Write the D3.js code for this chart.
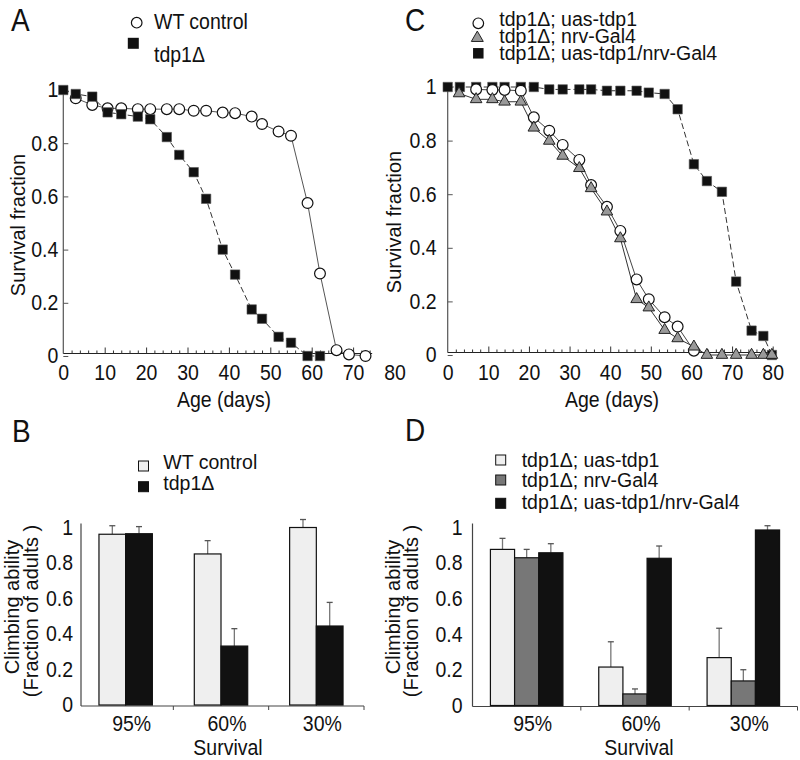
<!DOCTYPE html>
<html><head><meta charset="utf-8">
<script src="https://cdn.jsdelivr.net/npm/d3@7"></script>
<style>
body{margin:0;background:#fff}
svg text{font-family:"Liberation Sans",Arial,Helvetica,sans-serif;fill:#111}
</style>
</head><body><svg id="c" width="800" height="760"></svg>
<script>
// ---------------- DATA ----------------
// Panel A: survival curves
const daysWtA   = [3,7,10.7,14,18,21,25,28,31.5,34.5,38.5,41.5,45.5,48,52,55,59,62,66,69,73];
const wtA       = [0.969,0.944,0.931,0.931,0.928,0.928,0.928,0.928,0.922,0.922,0.915,0.913,0.90,0.872,0.844,0.828,0.575,0.31,0.022,0.006,0];
const daysTdpA  = [0,3,7,10.7,14,18,21,25,28,31.5,34.5,38.5,41.5,45.5,48,52,55,59,62];
const tdp1A     = [1,0.985,0.975,0.916,0.909,0.90,0.89,0.823,0.756,0.691,0.591,0.40,0.306,0.175,0.14,0.072,0.05,0,0];
const seriesA   = ["WT control","tdp1\u0394"];

// Panel C: survival curves
const daysUasC  = [7,11,14,18,21.2,25,28.3,32.4,35.3,39.2,42.5,46.5,49.5,53.4,56.6,60.6];
const uasC      = [0.991,0.989,0.989,0.986,0.887,0.837,0.784,0.728,0.634,0.553,0.463,0.282,0.208,0.141,0.106,0.016];
const daysNrvC  = [2.8,7,11,14,18,21.2,25,28.3,32.4,35.3,39.2,42.5,46.5,49.5,53.4,56.6,60.6,63.8,67.5,71,74.8,77.7,79.8];
const nrvC      = [0.976,0.954,0.954,0.945,0.945,0.848,0.799,0.743,0.697,0.622,0.535,0.435,0.208,0.177,0.093,0.062,0.031,0,0,0,0,0,0];
const daysResC  = [0,3,7,11,14,18,21.2,25,28.3,32.4,35.3,39.2,42.5,46.5,49.5,53.4,56.6,60.6,63.8,67.5,71,74.8,77.7,79.8];
const rescueC   = [1,1,1,1,1,1,1,0.991,0.991,0.991,0.991,0.986,0.986,0.986,0.979,0.974,0.917,0.712,0.649,0.609,0.274,0.091,0.071,0];
const seriesC   = ["tdp1\u0394; uas-tdp1","tdp1\u0394; nrv-Gal4","tdp1\u0394; uas-tdp1/nrv-Gal4"];

const xTicksSurv = [0,10,20,30,40,50,60,70,80];
const yTicks     = [0,0.2,0.4,0.6,0.8,1];

// Panel B: climbing bars
const categories = ["95%","60%","30%"];
const wtB      = [0.962,0.851,1.0];
const wtBErr   = [0.048,0.075,0.045];
const tdp1B    = [0.965,0.332,0.445];
const tdp1BErr = [0.040,0.098,0.133];

// Panel D: climbing bars
const uasD      = [0.877,0.216,0.269];
const uasDErr   = [0.062,0.142,0.165];
const nrvD      = [0.830,0.065,0.138];
const nrvDErr   = [0.047,0.028,0.063];
const rescueD   = [0.858,0.827,0.986];
const rescueDErr= [0.051,0.069,0.024];

// ---------------- DRAW ----------------
const svg = d3.select("#c");
const FS = 19.5;   // font size
const SY = 1.1;    // slight vertical stretch of the original figure's lettering

function stretchLeft(sel){
  sel.attr("font-family",null).attr("font-size",null);
  sel.selectAll("text").attr("font-size",FS).attr("fill","#111")
    .attr("transform",`scale(1,${SY})`);
}
function stretchBottom(baseline){
  return sel=>{
    sel.attr("font-family",null).attr("font-size",null);
    sel.selectAll("text").attr("font-size",FS).attr("fill","#111")
      .attr("dy",null).attr("y",baseline/SY).attr("transform",`scale(1,${SY})`);
  };
}

function txt(x,y,s,opt={}){
  const t = svg.append("text").text(s).attr("font-size",opt.size||FS);
  if(opt.anchor) t.attr("text-anchor",opt.anchor);
  const sy = opt.sy!==undefined ? opt.sy : SY;
  if(opt.rot) t.attr("transform",`translate(${x},${y}) rotate(-90)`);
  else t.attr("transform",`translate(${x},${y}) scale(1,${sy})`);
  return t;
}

function zip(days,vals){ return days.map((d,i)=>({day:d,v:vals[i]})); }

function survivalPanel(o){
  const g = svg.append("g");
  const x = d3.scaleLinear().domain([0,80]).range(o.xr);
  const y = d3.scaleLinear().domain([0,1]).range(o.yr);
  const ay = y(0) - 2.5;
  // y axis
  g.append("line").attr("x1",x(0)).attr("x2",x(0)).attr("y1",y(1)).attr("y2",ay)
    .attr("stroke","#555").attr("stroke-width",1.2);
  g.append("g").attr("transform",`translate(${x(0)},0)`)
    .call(d3.axisRight(y).tickValues(yTicks).tickSize(5).tickFormat(""))
    .call(s=>s.select(".domain").remove())
    .call(s=>s.selectAll("line").attr("stroke","#555"));
  g.append("g").attr("transform",`translate(${x(0)},0)`)
    .call(d3.axisLeft(y).tickValues(yTicks).tickSize(0).tickPadding(o.yPad)
      .tickFormat(d=> d===0?"0":d===1?"1":d3.format(".1f")(d)))
    .call(s=>s.select(".domain").remove())
    .call(stretchLeft);
  // x axis
  g.append("line").attr("x1",x(0)).attr("x2",x(o.xEnd)).attr("y1",ay).attr("y2",ay)
    .attr("stroke","#222").attr("stroke-width",1.2);
  const minor = d3.range(2,o.xEnd+0.01,2).filter(d=>d%10!==0);
  const major = xTicksSurv.filter(d=>d>0 && d<=o.xEnd);
  g.append("g").attr("transform",`translate(0,${ay})`)
    .call(d3.axisTop(x).tickValues(minor).tickSize(3).tickFormat(""))
    .call(s=>s.select(".domain").remove())
    .call(s=>s.selectAll("line").attr("stroke","#333"));
  g.append("g").attr("transform",`translate(0,${ay})`)
    .call(d3.axisTop(x).tickValues(major).tickSize(6).tickFormat(""))
    .call(s=>s.select(".domain").remove())
    .call(s=>s.selectAll("line").attr("stroke","#333"));
  g.append("g").attr("transform",`translate(0,${ay})`)
    .call(d3.axisBottom(x).tickValues(xTicksSurv).tickSize(0))
    .call(s=>s.select(".domain").remove())
    .call(stretchBottom(380.5-ay));
  // series
  const line = d3.line().x(d=>x(d.day)).y(d=>y(d.v));
  o.series.forEach(s=>{
    g.append("path").datum(s.data).attr("d",line).attr("fill","none")
      .attr("stroke",s.lineColor).attr("stroke-width",1)
      .attr("stroke-dasharray",s.dash||null);
  });
  o.series.slice().sort((a,b)=>a.z-b.z).forEach(s=>{
    const pts = g.append("g").selectAll("path").data(s.data).join("path")
      .attr("transform",d=>`translate(${x(d.day)},${y(d.v)})`);
    if(s.marker==="circle"){
      pts.attr("d",d3.symbol(d3.symbolCircle,Math.PI*5.4*5.4)()).attr("fill","#fff").attr("stroke","#111").attr("stroke-width",1.2);
    } else if(s.marker==="square"){
      pts.attr("d",d3.symbol(d3.symbolSquare,9.4*9.4)()).attr("fill","#111").attr("stroke","#555").attr("stroke-width",0.6);
    } else {
      pts.attr("d",d3.symbol(d3.symbolTriangle,58)()).attr("fill","#999").attr("stroke","#222").attr("stroke-width",1);
    }
  });
  return {x,y};
}

function barPanel(o){
  const g = svg.append("g");
  const y = d3.scaleLinear().domain([0,1]).range(o.yr);
  const x0 = d3.scaleBand().domain(categories).range(o.xr).padding(0);
  const x1 = d3.scaleBand().domain(o.series.map(s=>s.name)).range([0,o.groupW]).padding(0);
  const off = (x0.bandwidth()-o.groupW)/2;
  // y axis
  g.append("line").attr("x1",o.axisX).attr("x2",o.axisX).attr("y1",y(1)-4).attr("y2",y(0)+1)
    .attr("stroke","#444").attr("stroke-width",1.2);
  g.append("g").attr("transform",`translate(${o.axisX},0)`)
    .call(d3.axisLeft(y).tickValues(yTicks).tickSize(0).tickPadding(o.yPad)
      .tickFormat(d=> d===0?"0":d===1?"1":d3.format(".1f")(d)))
    .call(s=>s.select(".domain").remove())
    .call(stretchLeft);
  // x axis
  g.append("line").attr("x1",o.axisX).attr("x2",o.xr[1]).attr("y1",y(0)+1).attr("y2",y(0)+1)
    .attr("stroke","#444").attr("stroke-width",1.2);
  const bounds = categories.slice(1).map(c=>x0(c)).concat([o.xr[1]]);
  g.selectAll(".bt").data(bounds).join("line")
    .attr("x1",d=>d).attr("x2",d=>d).attr("y1",y(0)+1).attr("y2",y(0)+5).attr("stroke","#444");
  g.append("g").attr("transform",`translate(${off+o.groupW/2 - x0.bandwidth()/2 + 6},${y(0)})`)
    .call(d3.axisBottom(x0).tickSize(0))
    .call(s=>s.select(".domain").remove())
    .call(stretchBottom(731.5-y(0)));
  // bars
  o.series.forEach(s=>{
    const data = categories.map((c,i)=>({c,v:s.values[i],e:s.err[i]}));
    const bx = d=> x0(d.c)+off+x1(s.name);
    g.append("g").selectAll("line").data(data).join("line")
      .attr("x1",d=>bx(d)+x1.bandwidth()/2).attr("x2",d=>bx(d)+x1.bandwidth()/2)
      .attr("y1",d=>y(d.v)).attr("y2",d=>y(d.v+d.e))
      .attr("stroke","#777").attr("stroke-width",1.3);
    g.append("g").selectAll("line").data(data).join("line")
      .attr("x1",d=>bx(d)+x1.bandwidth()/2-3).attr("x2",d=>bx(d)+x1.bandwidth()/2+3)
      .attr("y1",d=>y(d.v+d.e)).attr("y2",d=>y(d.v+d.e))
      .attr("stroke","#555").attr("stroke-width",1.3);
    g.append("g").selectAll("rect").data(data).join("rect")
      .attr("x",bx).attr("width",x1.bandwidth())
      .attr("y",d=>y(d.v)).attr("height",d=>y(0)-y(d.v))
      .attr("fill",s.color).attr("stroke","#111").attr("stroke-width",1.2);
  });
}

// ----- Panel A -----
survivalPanel({
  xr:[63.3,394.5], yr:[356,90], xEnd:74.6, yPad:5,
  series:[
    {data:zip(daysWtA,wtA), marker:"circle", lineColor:"#555", z:1},
    {data:zip(daysTdpA,tdp1A), marker:"square", lineColor:"#333", dash:"6,3", z:2}
  ]
});
// ----- Panel C -----
survivalPanel({
  xr:[447.7,772.7], yr:[355,87], xEnd:80.9, yPad:11,
  series:[
    {data:zip(daysResC,rescueC), marker:"square", lineColor:"#333", dash:"6,3", z:1},
    {data:zip(daysUasC,uasC), marker:"circle", lineColor:"#444", z:2},
    {data:zip(daysNrvC,nrvC), marker:"triangle", lineColor:"#333", z:3}
  ]
});
// ----- Panel B -----
barPanel({
  xr:[78,364], yr:[705,527.5], axisX:81, groupW:53.4, yPad:8,
  series:[
    {name:seriesA[0], values:wtB, err:wtBErr, color:"#efefef"},
    {name:seriesA[1], values:tdp1B, err:tdp1BErr, color:"#111"}
  ]
});
// ----- Panel D -----
barPanel({
  xr:[472.5,797.5], yr:[705.5,527.5], axisX:472.5, groupW:72.5, yPad:10,
  series:[
    {name:seriesC[0], values:uasD, err:uasDErr, color:"#efefef"},
    {name:seriesC[1], values:nrvD, err:nrvDErr, color:"#777"},
    {name:seriesC[2], values:rescueD, err:rescueDErr, color:"#111"}
  ]
});

// ----- Panel letters -----
txt(11,31,"A",{size:28});
txt(405,31,"C",{size:28});
txt(12,442,"B",{size:28});
txt(405,441,"D",{size:28});

// ----- Axis titles -----
txt(25,225,"Survival fraction",{anchor:"middle",rot:true,size:20});
txt(401,222,"Survival fraction",{anchor:"middle",rot:true,size:20});
txt(224,406.5,"Age (days)",{anchor:"middle"});
txt(612,406.5,"Age (days)",{anchor:"middle"});
txt(19,607,"Climbing ability",{anchor:"middle",rot:true,size:20});
txt(38,611,"(Fraction of adults )",{anchor:"middle",rot:true,size:20});
txt(400,607,"Climbing ability",{anchor:"middle",rot:true,size:20});
txt(418,611,"(Fraction of adults )",{anchor:"middle",rot:true,size:20});
txt(228,755,"Survival",{anchor:"middle"});
txt(639,755,"Survival",{anchor:"middle"});

// ----- Legends -----
const legA = svg.append("g");
legA.append("path").attr("transform","translate(136.7,22.7)").attr("d",d3.symbol(d3.symbolCircle,Math.PI*5.3*5.3)())
  .attr("fill","#fff").attr("stroke","#111").attr("stroke-width",1.2);
legA.append("path").attr("transform","translate(133.3,43.3)").attr("d",d3.symbol(d3.symbolSquare,11*11)()).attr("fill","#111");
txt(154,28.5,seriesA[0]); txt(154,61.5,seriesA[1]);

const legC = svg.append("g");
legC.append("path").attr("transform","translate(478.3,23.3)").attr("d",d3.symbol(d3.symbolCircle,Math.PI*5.3*5.3)())
  .attr("fill","#fff").attr("stroke","#111").attr("stroke-width",1.2);
legC.append("path").attr("transform","translate(477.3,38)").attr("d",d3.symbol(d3.symbolTriangle,62)())
  .attr("fill","#999").attr("stroke","#222").attr("stroke-width",1);
legC.append("path").attr("transform","translate(478.3,53.3)").attr("d",d3.symbol(d3.symbolSquare,10.5*10.5)()).attr("fill","#111");
txt(499.3,26.3,seriesC[0],{sy:1}); txt(499.3,42.8,seriesC[1],{sy:1}); txt(499.3,59.8,seriesC[2],{sy:1});

const legB = svg.append("g");
[["#efefef",466],["#111",486.7]].forEach(([c,yy])=>{
  legB.append("rect").attr("x",143.5-5).attr("y",yy-5).attr("width",10).attr("height",10).attr("fill",c).attr("stroke","#111").attr("stroke-width",1);
});
txt(163.3,469.3,seriesA[0],{sy:1}); txt(163.3,490,seriesA[1],{sy:1});

const legD = svg.append("g");
[["#efefef",460],["#777",480],["#111",503.3]].forEach(([c,yy])=>{
  legD.append("rect").attr("x",500.7-5).attr("y",yy-5).attr("width",10).attr("height",10).attr("fill",c).attr("stroke","#111").attr("stroke-width",1);
});
txt(521.7,466.7,seriesC[0],{sy:1}); txt(521.7,487,seriesC[1],{sy:1}); txt(521.7,508.5,seriesC[2],{sy:1});
</script>
</body></html>
